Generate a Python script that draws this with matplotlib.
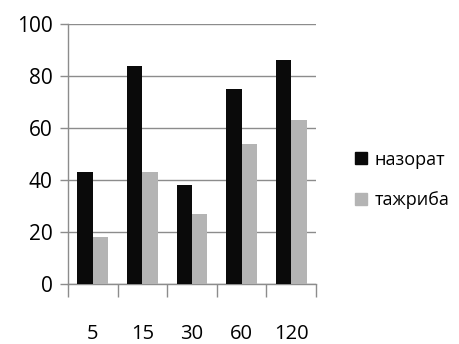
import numpy as np
import matplotlib.pyplot as plt
from matplotlib.patches import Patch

# data
categories = ["5", "15", "30", "60", "120"]
nazorat = [43, 84, 38, 75, 86]
tajriba = [18, 43, 27, 54, 63]
series_names = ["назорат", "тажриба"]

plt.rcParams['font.family'] = ['Open Sans', 'DejaVu Sans']

fig = plt.figure(figsize=(4.6, 3.44), dpi=100)
ax = fig.add_axes([68 / 460, 60 / 344, 248 / 460, 260 / 344])

x = np.arange(len(categories))
w = 0.31
ax.bar(x - w / 2, nazorat, width=w, color="#0a0a0a", zorder=3)
ax.bar(x + w / 2, tajriba, width=w, color="#b4b4b4", zorder=3)

ax.set_xlim(-0.5, len(categories) - 0.5)
ax.set_ylim(0, 100)
ax.set_yticks(range(0, 101, 20))
ax.yaxis.grid(True, color="#8c8c8c", linewidth=1.0, zorder=0)

# category ticks between groups, labels centred under them
ax.set_xticks(np.arange(-0.5, len(categories), 1.0))
ax.set_xticklabels([])
ax.set_xticks(x, minor=True)
ax.set_xticklabels(categories, minor=True)
ax.tick_params(axis='x', which='major', length=9, color="#8c8c8c", width=1)
ax.tick_params(axis='x', which='minor', length=0, pad=29, labelsize=14.5)
ax.tick_params(axis='y', length=6, color="#8c8c8c", width=1, labelsize=15, pad=5)

for side in ['top', 'right']:
    ax.spines[side].set_visible(False)
for side in ['left', 'bottom']:
    ax.spines[side].set_color("#8c8c8c")
    ax.spines[side].set_linewidth(1)

handles = [Patch(color="#0a0a0a"), Patch(color="#b4b4b4")]
fig.legend(handles, series_names, loc='center left', bbox_to_anchor=(339 / 460, 1 - 180 / 344),
           frameon=False, fontsize=13, handlelength=0.65, handleheight=0.65,
           handletextpad=0.4, labelspacing=1.25)

fig.savefig("out.png", dpi=100)
